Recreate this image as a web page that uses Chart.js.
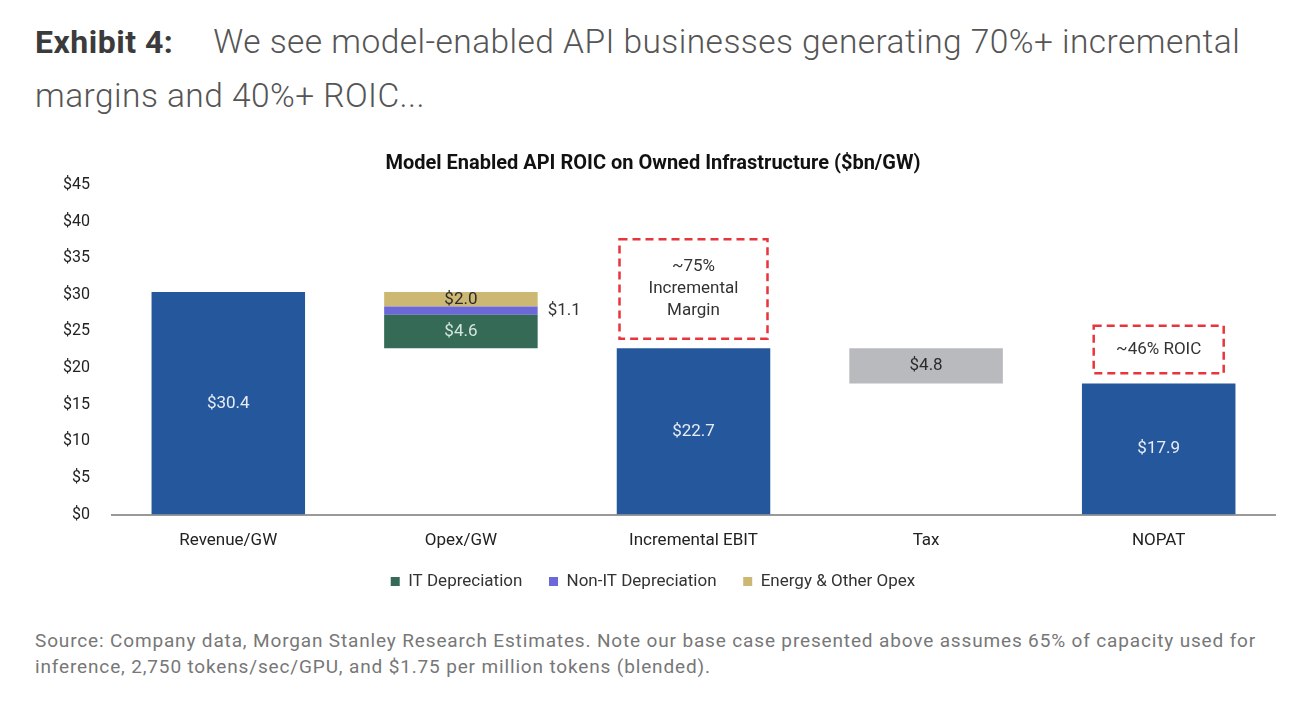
<!DOCTYPE html>
<html>
<head>
<meta charset="utf-8">
<script src="https://cdn.jsdelivr.net/npm/chart.js@4.4.1/dist/chart.umd.min.js"></script>
<style>
  body { margin: 0; background: #fff; font-family: Roboto, "Open Sans", sans-serif; }
  #page { position: relative; width: 1292px; height: 716px; overflow: hidden; }
  #header { position: absolute; left: 35px; top: 15px; width: 1235px; font-size: 33.5px; line-height: 53px; color: #555; font-weight: 300; letter-spacing: 0.45px; }
  #header b { font-weight: 700; color: #3b3b3b; font-size: 32px; letter-spacing: 0.5px; margin-right: 40px; }
  #wrap { position: absolute; left: 0; top: 140px; width: 1292px; height: 472px; }
  #source { position: absolute; left: 35px; top: 628px; width: 1245px; font-size: 19px; line-height: 26px; color: #777; font-weight: 400; letter-spacing: 0.85px; }
</style>
</head>
<body>
<div id="page">
  <div id="header"><b>Exhibit 4:</b>We see model-enabled API businesses generating 70%+ incremental margins and 40%+ ROIC...</div>
  <div id="wrap"><canvas id="chart"></canvas></div>
  <div id="source">Source: Company data, Morgan Stanley Research Estimates. Note our base case presented above assumes 65% of capacity used for inference, 2,750 tokens/sec/GPU, and $1.75 per million tokens (blended).</div>
</div>
<script>
var categories = ["Revenue/GW", "Opex/GW", "Incremental EBIT", "Tax", "NOPAT"];
var totals = [30.4, null, 22.7, null, 17.9];
var itDepreciation = [null, [22.7, 27.3], null, null, null];
var nonItDepreciation = [null, [27.3, 28.4], null, null, null];
var energyOpex = [null, [28.4, 30.4], null, null, null];
var taxes = [null, null, null, [17.9, 22.7], null];
var yTicks = [0, 5, 10, 15, 20, 25, 30, 35, 40, 45];

var LABEL_FONT = '17px Roboto, sans-serif';

// value labels drawn on the bars
var barLabels = {
    id: 'barLabels',
    afterDatasetsDraw: function (chart) {
        var ctx = chart.ctx;
        ctx.save();
        ctx.font = LABEL_FONT;
        ctx.textBaseline = 'middle';
        chart.data.datasets.forEach(function (ds, i) {
            var meta = chart.getDatasetMeta(i);
            meta.data.forEach(function (bar, j) {
                var v = ds.data[j];
                if (v === null || v === undefined) return;
                var val = Array.isArray(v) ? v[1] - v[0] : v;
                var txt = '$' + val.toFixed(1);
                var cy = (bar.y + bar.base) / 2;
                if (ds.labelOutside) {
                    ctx.textAlign = 'left';
                    ctx.fillStyle = '#333';
                    ctx.fillText(txt, bar.x + bar.width / 2 + 10, cy);
                } else {
                    ctx.textAlign = 'center';
                    ctx.fillStyle = ds.labelColor;
                    ctx.fillText(txt, bar.x, cy);
                }
            });
        });
        ctx.restore();
    }
};

// dashed red callout boxes
var callouts = {
    id: 'callouts',
    afterDraw: function (chart) {
        var ctx = chart.ctx;
        var x = chart.scales.x, y = chart.scales.y;
        var boxes = [
            { cat: 2, w: 148, top: 37.6, bottom: 24.0, lines: ['~75%', 'Incremental', 'Margin'] },
            { cat: 4, w: 130, top: 25.8, bottom: 19.3, lines: ['~46% ROIC'] }
        ];
        ctx.save();
        boxes.forEach(function (b) {
            var cx = x.getPixelForValue(b.cat);
            var t = y.getPixelForValue(b.top), bt = y.getPixelForValue(b.bottom);
            ctx.setLineDash([8, 5]);
            ctx.lineWidth = 2.5;
            ctx.strokeStyle = '#e8353c';
            ctx.strokeRect(cx - b.w / 2, t, b.w, bt - t);
            ctx.setLineDash([]);
            ctx.fillStyle = '#333';
            ctx.font = LABEL_FONT;
            ctx.textAlign = 'center';
            ctx.textBaseline = 'middle';
            var mid = (t + bt) / 2, lh = 22;
            b.lines.forEach(function (ln, k) {
                ctx.fillText(ln, cx, mid + (k - (b.lines.length - 1) / 2) * lh);
            });
        });
        ctx.restore();
    }
};

var baseLabels = Chart.defaults.plugins.legend.labels.generateLabels;

new Chart(document.getElementById('chart'), {
    type: 'bar',
    data: {
        labels: categories,
        datasets: [
            { label: 'Total', data: totals, backgroundColor: '#25579c', labelColor: '#e8edf5', inLegend: false },
            { label: 'IT Depreciation', data: itDepreciation, backgroundColor: '#356a57', labelColor: '#d6e6df', inLegend: true },
            { label: 'Non-IT Depreciation', data: nonItDepreciation, backgroundColor: '#6b68d8', labelOutside: true, inLegend: true },
            { label: 'Energy & Other Opex', data: energyOpex, backgroundColor: '#cdb873', labelColor: '#2b2b2b', inLegend: true },
            { label: 'Tax', data: taxes, backgroundColor: '#b9babd', labelColor: '#2b2b2b', inLegend: false }
        ]
    },
    options: {
        responsive: true,
        maintainAspectRatio: false,
        animation: false,
        datasets: { bar: { categoryPercentage: 1, barPercentage: 0.66 } },
        layout: { padding: { left: 31, right: 17, bottom: 12 } },
        plugins: {
            title: {
                display: true,
                text: 'Model Enabled API ROIC on Owned Infrastructure ($bn/GW)',
                color: '#111',
                font: { family: 'Roboto', size: 20, weight: 'bold' },
                padding: { top: 12, bottom: 9 }
            },
            legend: {
                position: 'bottom',
                labels: {
                    // extra trailing space widens the gap between items
                    generateLabels: function (chart) {
                        var items = baseLabels(chart).filter(function (it) {
                            return chart.data.datasets[it.datasetIndex].inLegend;
                        });
                        items.forEach(function (it, k) {
                            if (k < items.length - 1) it.text += '   ';
                        });
                        return items;
                    },
                    usePointStyle: true,
                    pointStyle: 'rect',
                    boxWidth: 9,
                    boxHeight: 9,
                    padding: 14,
                    color: '#333',
                    font: { family: 'Roboto', size: 17 }
                }
            },
            tooltip: { enabled: false }
        },
        scales: {
            x: {
                stacked: true,
                grid: { display: false },
                border: { color: '#999', width: 2 },
                ticks: { color: '#222', font: { family: 'Roboto', size: 17 }, padding: 8 }
            },
            y: {
                stacked: false,
                min: 0,
                max: 45,
                afterBuildTicks: function (scale) { scale.ticks = yTicks.map(function (v) { return { value: v }; }); },
                afterFit: function (scale) { scale.width = 81; },
                grid: { display: false },
                border: { display: false },
                ticks: {
                    color: '#222',
                    font: { family: 'Roboto', size: 16 },
                    padding: 14,
                    callback: function (v) { return '$' + v; }
                }
            }
        }
    },
    plugins: [barLabels, callouts]
});
</script>
</body>
</html>
